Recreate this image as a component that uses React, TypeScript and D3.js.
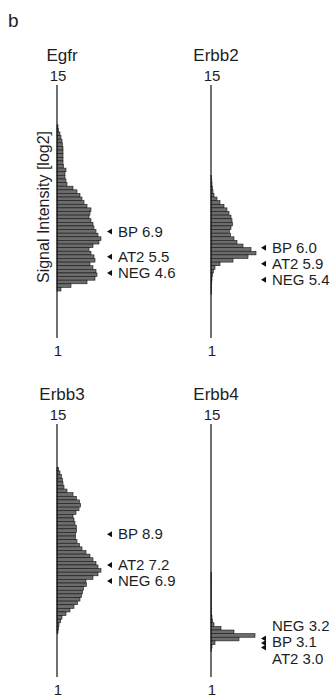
import React, { useRef, useEffect } from 'react';
import * as d3 from 'd3';

// histogram bins are 0.2 log2 units; counts listed from the top bin down
const binSize = 0.2;
const genes = ['Egfr', 'Erbb2', 'Erbb3', 'Erbb4'];
const axisTicks = [15, 1];
const markerNames = ['BP', 'AT2', 'NEG'];

const egfrTop = 12.8;
const egfrCounts = [1, 1.5, 3, 4, 5, 5.5, 6, 6, 6, 6, 6, 6.5, 9, 8, 8, 9, 10, 16, 20, 23, 25, 27, 30, 34, 33,
    32, 34, 36, 37, 39, 41, 44, 42, 36, 32, 34, 37, 38, 33, 36, 39, 40, 38, 30, 14, 4];
const egfrMarkers = [6.9, 5.5, 4.6];

const erbb2Top = 10.0;
const erbb2Counts = [0.5, 0.8, 1, 1.5, 2, 3, 6, 9, 13, 16, 18, 20, 21, 21.5, 20, 18.5, 19.5, 23, 26, 32,
    40, 45, 37, 22, 9, 4, 2.5, 1.5, 1, 0.8, 0.6, 0.5, 0.3];
const erbb2Markers = [6.0, 5.9, 5.4];

const erbb3Top = 12.6;
const erbb3Counts = [1.5, 3, 4.5, 5.5, 6, 7, 10, 16, 19.5, 22.5, 23.5, 22, 19, 16, 17, 18, 19.5, 19.5, 18.5, 18.5,
    20, 22.5, 25, 29, 33, 36, 39, 41, 44, 41, 36, 29, 29.5, 26.5, 25.5, 24.5, 23, 20.5, 17, 13, 9, 5, 3.5, 2, 1.5, 1];
const erbb3Markers = [8.9, 7.2, 6.9];

const erbb4Top = 6.8;
const erbb4Counts = [0.3, 0.3, 0.3, 0.3, 0.3, 0.3, 0.3, 0.3, 0.3, 0.3, 0.5, 0.7, 1, 1.5, 3, 10, 23, 44, 28, 4, 1, 0.5];
const erbb4Markers = [3.1, 3.0, 3.2];

const tops = [egfrTop, erbb2Top, erbb3Top, erbb4Top];
const counts = [egfrCounts, erbb2Counts, erbb3Counts, erbb4Counts];
const markers = [egfrMarkers, erbb2Markers, erbb3Markers, erbb4Markers];
// erbb4: arrows stay stacked together, the text is spread around them
const labelModes = ['push', 'push', 'push', 'center'];

const font = '"Liberation Sans", Arial, sans-serif';
const textColor = '#1e1e1e';

const Chart = () => {
    const ref = useRef(null);
    var width = 336, height = 698;
    var colX = [57, 211];
    var rowTop = [85, 424];
    var axisLen = 253;
    var labelGap = 16;

    useEffect(() => {
        d3.select(ref.current).selectAll('*').remove();
        const svg = d3.select(ref.current);

        svg.append('text')
            .attr('x', 8).attr('y', 27)
            .style('font-family', font).style('font-size', '19px').style('fill', textColor)
            .text('b');

        var xScale = d3.scaleLinear().domain([0, 45]).range([0, 45]);

        genes.forEach(function (gene, i) {
            var ax = colX[i % 2];
            var top = rowTop[Math.floor(i / 2)];
            var yScale = d3.scaleLinear().domain([15, 1]).range([top, top + axisLen]);
            var g = svg.append('g');

            g.append('text')
                .attr('x', ax + 5).attr('y', top - 24)
                .attr('text-anchor', 'middle')
                .style('font-family', font).style('font-size', '17px').style('fill', textColor)
                .text(gene);

            g.selectAll('text.tick')
                .data(axisTicks)
                .enter()
                .append('text')
                .attr('class', 'tick')
                .attr('x', ax + 1)
                .attr('y', function (d) { return d === 15 ? yScale(d) - 4 : yScale(d) + 18; })
                .attr('text-anchor', 'middle')
                .style('font-family', font).style('font-size', '15px').style('fill', textColor)
                .text(function (d) { return d; });

            var bins = counts[i].map(function (c, k) {
                return { hi: tops[i] - k * binSize, lo: tops[i] - (k + 1) * binSize, n: c };
            });

            g.selectAll('rect')
                .data(bins)
                .enter()
                .append('rect')
                .attr('x', ax)
                .attr('y', function (d) { return yScale(d.hi); })
                .attr('width', function (d) { return xScale(d.n); })
                .attr('height', function (d) { return yScale(d.lo) - yScale(d.hi); })
                .style('fill', '#6c6c6c')
                .style('stroke', '#161616')
                .style('stroke-width', 0.6);

            g.append('line')
                .attr('x1', ax).attr('x2', ax)
                .attr('y1', yScale(15)).attr('y2', yScale(1))
                .style('stroke', '#111')
                .style('stroke-width', 1.2);

            if (i === 0) {
                g.append('text')
                    .attr('transform', 'translate(' + (ax - 8) + ',' + yScale(8.25) + ') rotate(-90)')
                    .attr('text-anchor', 'middle')
                    .style('font-family', font).style('font-size', '16px').style('fill', textColor)
                    .text('Signal Intensity [log2]');
            }

            // marker labels, moved apart when they would overlap
            var labs = markerNames.map(function (name, k) {
                return { name: name, value: markers[i][k], y: yScale(markers[i][k]) };
            }).sort(function (a, b) { return a.y - b.y; });
            var ty = labs.map(function (d) { return d.y; });
            var ay = ty.slice();
            if (labelModes[i] === 'push') {
                for (var k = 1; k < ty.length; k++) {
                    if (ty[k] < ty[k - 1] + labelGap) ty[k] = ty[k - 1] + labelGap;
                }
                ay = ty;
            } else {
                var mid = d3.mean(ty) + 3;
                ty = ty.map(function (_, k) { return mid + (k - (ty.length - 1) / 2) * (labelGap + 0.5); });
                ay = ay.map(function (_, k) { return mid + 1 + (k - (ay.length - 1) / 2) * 4.5; });
            }
            labs.forEach(function (d, k) {
                var tip = ax + 50;
                g.append('path')
                    .attr('d', 'M' + tip + ',' + ay[k] + 'L' + (tip + 5) + ',' + (ay[k] - 3) + 'L' + (tip + 5) + ',' + (ay[k] + 3) + 'Z')
                    .style('fill', '#111');
                g.append('text')
                    .attr('x', tip + 11)
                    .attr('y', ty[k])
                    .attr('dy', '0.35em')
                    .style('font-family', font).style('font-size', '15px').style('fill', textColor)
                    .text(d.name + ' ' + d.value.toFixed(1));
            });
        });
    }, []);

    return (
        <svg ref={ref} width={width} height={height}
            style={{ position: 'absolute', left: 0, top: 0, background: '#fff' }} />
    );
};

export default function App() {
    return <Chart />;
}
